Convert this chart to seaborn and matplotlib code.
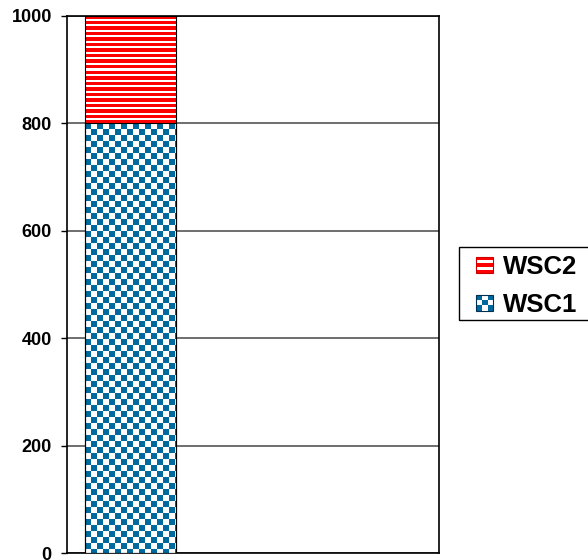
import numpy as np
import pandas as pd
import matplotlib
matplotlib.use("Agg")
import matplotlib.pyplot as plt
import seaborn as sns
from matplotlib.patches import Rectangle
from matplotlib.legend_handler import HandlerBase

# data
categories = ["A"]
wsc1 = [800]
wsc2 = [200]
series_names = ["WSC2", "WSC1"]
yticks = [0, 200, 400, 600, 800, 1000]

blue = "#006a9e"
red = "#ff0000"

sns.set_style("white")
plt.rcParams["font.family"] = ["Liberation Sans", "DejaVu Sans"]
plt.rcParams["font.weight"] = "bold"
plt.rcParams["text.color"] = "black"
plt.rcParams["ytick.color"] = "black"

df = pd.DataFrame({"cat": categories, "WSC1": wsc1, "WSC2": wsc2})
df["total"] = df["WSC1"] + df["WSC2"]

fig = plt.figure(figsize=(5.88, 5.6), dpi=100)
ax = fig.add_axes([0.114, 0.0125, 0.633, 0.959])

# stacked bars: total first, then lower series on top
sns.barplot(data=df, x="cat", y="total", color="white", edgecolor="black",
            linewidth=0.8, width=0.8, ax=ax, zorder=2)
sns.barplot(data=df, x="cat", y="WSC1", color="white", edgecolor="black",
            linewidth=0.8, width=0.8, ax=ax, zorder=3)

ax.set_xlim(-0.56, 2.73)
ax.set_ylim(0, 1000)
ax.set_yticks(yticks)
ax.set_xticks([])
ax.set_xlabel("")
ax.set_ylabel("")

# pixel textures like the old excel pattern fills
def checker(hpx, wpx, cell=6):
    yy, xx = np.mgrid[0:hpx, 0:wpx]
    m = ((yy // cell) + (xx // cell)) % 2
    img = np.ones((hpx, wpx, 3))
    img[m == 0] = matplotlib.colors.to_rgb(blue)
    return img

def stripes(hpx, wpx, period=11, on=7):
    # built at 2x resolution
    yy = np.arange(hpx)[:, None] * np.ones((1, wpx))
    m = (yy % period) < on
    img = np.ones((hpx, wpx, 3))
    img[m] = matplotlib.colors.to_rgb(red)
    return img

fig.canvas.draw()
patches = ax.patches
tot_patch = patches[0]
low_patch = patches[1]

def add_texture(x0, x1, y0, y1, kind, z):
    p0 = ax.transData.transform((x0, y0))
    p1 = ax.transData.transform((x1, y1))
    wpx = int(round(abs(p1[0] - p0[0])))
    hpx = int(round(abs(p1[1] - p0[1])))
    if kind == "checker":
        img = checker(hpx, wpx)
    else:
        img = stripes(hpx * 2, wpx * 2)
    ax.imshow(img, extent=(x0, x1, y0, y1), origin="upper",
              interpolation="nearest", aspect="auto", zorder=z)

bx0 = low_patch.get_x()
bx1 = bx0 + low_patch.get_width()
add_texture(bx0, bx1, low_patch.get_height(), tot_patch.get_height(), "stripes", 2.5)
add_texture(bx0, bx1, 0, low_patch.get_height(), "checker", 3.5)

# bar outline over textures
for p in patches:
    p.set_facecolor("none")
    p.set_zorder(4)

ax.set_xlim(-0.56, 2.73)
ax.set_ylim(0, 1000)

ax.yaxis.grid(True, color="#555555", linewidth=1.2)
ax.set_axisbelow(True)
for s in ax.spines.values():
    s.set_visible(True)
    s.set_color("black")
    s.set_linewidth(1.2)

ax.tick_params(axis="y", direction="out", length=4, width=1, color="black",
               labelsize=13, pad=7, left=True)
for lab in ax.get_yticklabels():
    lab.set_fontweight("bold")


# small pattern swatches for the legend
class SwatchHandler(HandlerBase):
    def __init__(self, kind):
        super().__init__()
        self.kind = kind

    def create_artists(self, legend, orig_handle, xdescent, ydescent,
                       width, height, fontsize, trans):
        x0, y0 = -xdescent, -ydescent
        arts = []
        if self.kind == "stripes":
            n = 5
            for i in range(n):
                c = red if i % 2 == 0 else "white"
                arts.append(Rectangle((x0, y0 + i * height / n), width, height / n,
                                      facecolor=c, edgecolor="none", transform=trans))
            edge = "#cc0000"
        else:
            n = 3
            for i in range(n):
                for j in range(n):
                    c = blue if (i + j) % 2 == 0 else "white"
                    arts.append(Rectangle((x0 + j * width / n, y0 + i * height / n),
                                          width / n, height / n, facecolor=c,
                                          edgecolor="none", transform=trans))
            edge = "#003050"
        arts.append(Rectangle((x0, y0), width, height, facecolor="none",
                              edgecolor=edge, linewidth=0.8, transform=trans))
        return arts


h2 = Rectangle((0, 0), 1, 1)
h1 = Rectangle((0, 0), 1, 1)
leg = fig.legend([h2, h1], series_names, loc="upper left",
                 bbox_to_anchor=(476 / 588, 1 - 255 / 560), frameon=False,
                 handlelength=0.68, handleheight=0.58,
                 handletextpad=0.36, labelspacing=0.54, borderpad=0,
                 borderaxespad=0, prop={"weight": "bold", "size": 18.5},
                 handler_map={h2: SwatchHandler("stripes"),
                              h1: SwatchHandler("checker")})

# legend box, running off the right edge like the original
fig.patches.append(Rectangle((459 / 588, 1 - 320 / 560), 0.3, 73 / 560,
                             transform=fig.transFigure, facecolor="none",
                             edgecolor="black", linewidth=1.0))

fig.savefig("out.png", dpi=100)
